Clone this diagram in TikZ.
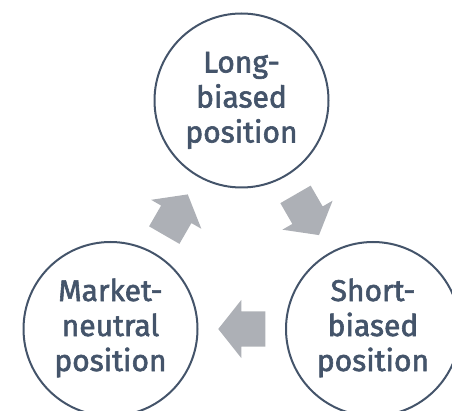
\documentclass[tikz,border=0pt]{standalone}
\usepackage{fontspec}
\setmainfont{Fira Sans}[FakeBold=2]
\usetikzlibrary{calc}
\definecolor{ink}{HTML}{44546A}
\definecolor{arrowgray}{HTML}{ADB0B6}
\tikzset{
  stage/.style={circle, draw=ink, line width=2pt, minimum size=174pt, inner sep=0pt,
    text=ink, align=center, font=\fontsize{30}{35}\selectfont},
  flowarrow/.style={fill=arrowgray, draw=none},
}
% block arrow pointing along +x, centred on the origin
\newcommand{\blockarrow}[2]{%
  \path[flowarrow, shift={#1}, rotate=#2]
    (23.5,0) -- (0.5,29) -- (0.5,17.5) -- (-23.5,17.5)
    -- (-23.5,-17.5) -- (0.5,-17.5) -- (0.5,-29) -- cycle;}
% stage label, lowered slightly inside its circle
\newcommand{\stagetext}[1]{\raisebox{-3pt}{\begin{tabular}{@{}c@{}}#1\end{tabular}}}
\begin{document}
\begin{tikzpicture}[x=1pt, y=-1pt]
  \useasboundingbox (0,0) rectangle (452,411);
  \node[stage] (long)    at (241.5,100.5) {\stagetext{Long-\\biased\\position}};
  \node[stage] (neutral) at (110.5,329)   {\stagetext{Market-\\neutral\\position}};
  \node[stage] (short)   at (373,329)     {\stagetext{Short-\\biased\\position}};
  \blockarrow{($(long)!0.5!(short)$)}{-60}
  \blockarrow{($(short)!0.5!(neutral)$)}{180}
  \blockarrow{($(neutral)!0.5!(long)$)}{60}
\end{tikzpicture}
\end{document}
